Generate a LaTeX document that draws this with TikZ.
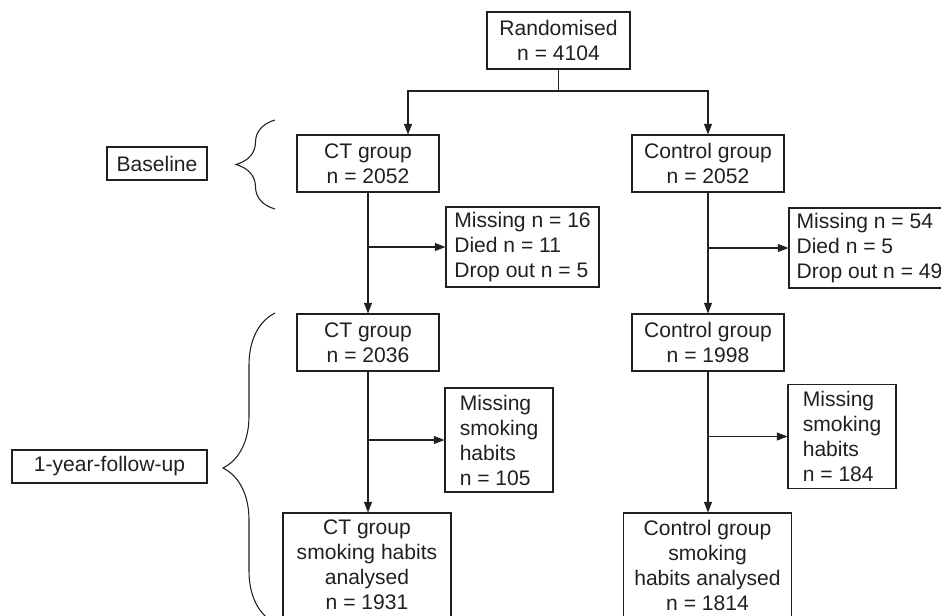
\documentclass[tikz,border=0pt]{standalone}
\usepackage{fontspec}
\setmainfont{Liberation Sans}
\usetikzlibrary{positioning,arrows.meta,calc,decorations.pathreplacing}
\definecolor{ink}{HTML}{231F20}

\begin{document}
\begin{tikzpicture}[
  x=0.75pt,y=-0.75pt,
  box/.style={draw=ink,text=ink,line width=0.8pt,inner sep=0pt,align=center,
  font=\fontsize{15.8}{18.75}\selectfont},
  grpct/.style={box,minimum width=106.5pt,minimum height=42.75pt},
  grpco/.style={box,minimum width=114pt,minimum height=42.75pt},
  loss/.style={box,align=left,minimum height=60pt},
  miss/.style={box,align=left,minimum width=81pt,minimum height=78pt},
  final/.style={box,minimum width=126pt,minimum height=78pt},
  phase/.style={box,minimum height=24.75pt},
  arr/.style={draw=ink,line width=0.8pt,-{Triangle[length=8pt,width=6pt]}},
  link/.style={draw=ink,line width=0.8pt},
  brc/.style={draw=ink,line width=0.8pt,decorate,decoration={brace,amplitude=#1}}
]
\useasboundingbox (0,0) rectangle (941,615);
\clip (0,0) rectangle (941,615);

\node[box,minimum width=107.25pt,minimum height=42.75pt] (rand) at (558.5,40.5) {Randomised\\n = 4104};

\node[grpct] (ctbase) at (368,163.5) {CT group\\n = 2052};
\node[grpco] (cobase) at (708,163.5) {Control group\\n = 2052};
\node[loss,minimum width=114.75pt] (ctloss) at (522.5,247) {Missing n = 16\\Died n = 11\\Drop out n = 5};
\node[loss,minimum width=120.75pt] (coloss) at (869.5,248) {Missing n = 54\\Died n = 5\\Drop out n = 49};

\node[grpct] (ctyear) at (368,342.5) {CT group\\n = 2036};
\node[grpco] (coyear) at (708,342.5) {Control group\\n = 1998};
\node[miss] (ctmiss) at (499,440) {Missing\\smoking\\habits\\n = 105};
\node[miss] (comiss) at (842,436.5) {Missing\\smoking\\habits\\n = 184};

\node[final] (ctfinal) at (367,565) {CT group\\smoking habits\\analysed\\n = 1931};
\node[final] (cofinal) at (707.5,565) {Control group\\smoking\\habits analysed\\n = 1814};

% phases on the left
\node[phase,minimum width=75pt] (baseline) at (157,163.5) {Baseline};
\node[phase,minimum width=146.25pt] (followup) at (109.5,466.5) {1-year-follow-up};
\draw[brc=29.25pt] (275,209) -- (275,120);
\draw[brc=39pt] (275,623) -- (275,313);

% arms
\coordinate (split) at (558.5,91);
\draw[link] (rand) -- (split);
\draw[arr] (split) -| ([xshift=30pt]ctbase.north);
\draw[arr] (split) -| (cobase.north);

\draw[arr] (ctbase) -- (ctyear);
\draw[arr] (ctbase.south |- ctloss.west) -- (ctloss.west);
\draw[arr] (cobase) -- (coyear);
\draw[arr] (cobase.south |- coloss.west) -- (coloss.west);

\draw[arr] (ctyear.south) -- (ctyear.south |- ctfinal.north);
\draw[arr] (ctyear.south |- ctmiss.west) -- (ctmiss.west);
\draw[arr] (coyear.south) -- (coyear.south |- cofinal.north);
\draw[arr] (coyear.south |- comiss.west) -- (comiss.west);
\end{tikzpicture}
\end{document}
